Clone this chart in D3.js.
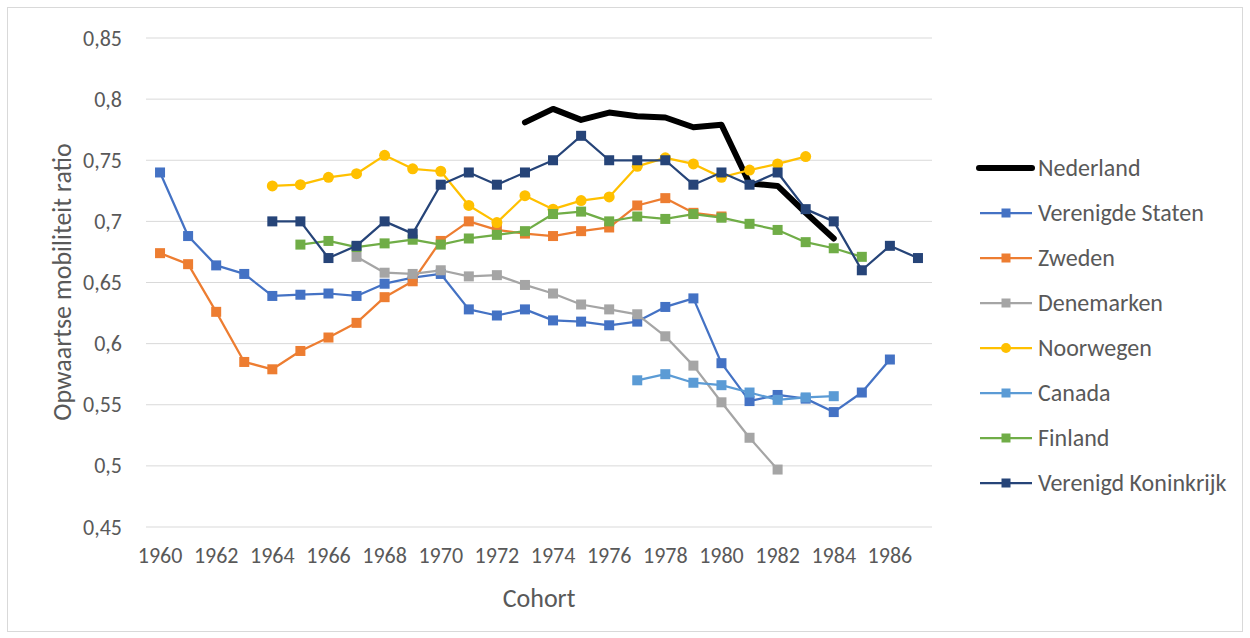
<!DOCTYPE html>
<html><head><meta charset="utf-8">
<script src="https://cdn.jsdelivr.net/npm/d3@7"></script>
<style>
body{margin:0;background:#fff;}
text{font-family:Carlito,Lato,"Liberation Sans",sans-serif;fill:#595959;}
</style></head>
<body><svg id="c" width="1250" height="638"></svg>
<script>
const years = d3.range(1960, 1988);
const yTicks = [0.45,0.5,0.55,0.6,0.65,0.7,0.75,0.8,0.85];
const xTickYears = d3.range(1960, 1988, 2);

const nederlandStart = 1973;
const nederland = [0.781,0.792,0.783,0.789,0.786,0.785,0.777,0.779,0.731,0.729,0.707,0.686];
const vsStart = 1960;
const verenigdeStaten = [0.740,0.688,0.664,0.657,0.639,0.640,0.641,0.639,0.649,0.654,0.657,0.628,0.623,0.628,0.619,0.618,0.615,0.618,0.630,0.637,0.584,0.553,0.558,0.555,0.544,0.560,0.587];
const zwedenStart = 1960;
const zweden = [0.674,0.665,0.626,0.585,0.579,0.594,0.605,0.617,0.638,0.651,0.684,0.700,0.693,0.690,0.688,0.692,0.695,0.713,0.719,0.707,0.704];
const denemarkenStart = 1967;
const denemarken = [0.671,0.658,0.657,0.660,0.655,0.656,0.648,0.641,0.632,0.628,0.624,0.606,0.582,0.552,0.523,0.497];
const noorwegenStart = 1964;
const noorwegen = [0.729,0.730,0.736,0.739,0.754,0.743,0.741,0.713,0.699,0.721,0.710,0.717,0.720,0.745,0.752,0.747,0.736,0.742,0.747,0.753];
const canadaStart = 1977;
const canada = [0.570,0.575,0.568,0.566,0.560,0.554,0.556,0.557];
const finlandStart = 1965;
const finland = [0.681,0.684,0.679,0.682,0.685,0.681,0.686,0.689,0.692,0.706,0.708,0.700,0.704,0.702,0.706,0.703,0.698,0.693,0.683,0.678,0.671];
const vkStart = 1964;
const verenigdKoninkrijk = [0.700,0.700,0.670,0.680,0.700,0.690,0.730,0.740,0.730,0.740,0.750,0.770,0.750,0.750,0.750,0.730,0.740,0.730,0.740,0.710,0.700,0.660,0.680,0.670];

const series = [
  {name:"Nederland", start:nederlandStart, values:nederland, color:"#000000", width:6, marker:"none"},
  {name:"Verenigde Staten", start:vsStart, values:verenigdeStaten, color:"#4472C4", width:2.25, marker:"square"},
  {name:"Zweden", start:zwedenStart, values:zweden, color:"#ED7D31", width:2.25, marker:"square"},
  {name:"Denemarken", start:denemarkenStart, values:denemarken, color:"#A5A5A5", width:2.25, marker:"square"},
  {name:"Noorwegen", start:noorwegenStart, values:noorwegen, color:"#FFC000", width:2.25, marker:"circle"},
  {name:"Canada", start:canadaStart, values:canada, color:"#5B9BD5", width:2.25, marker:"square"},
  {name:"Finland", start:finlandStart, values:finland, color:"#70AD47", width:2.25, marker:"square"},
  {name:"Verenigd Koninkrijk", start:vkStart, values:verenigdKoninkrijk, color:"#264478", width:2.25, marker:"square"}
];

const svg = d3.select("#c");
svg.append("rect").attr("x",7.5).attr("y",7.5).attr("width",1235).attr("height",624)
  .attr("fill","#fff").attr("stroke","#D9D9D9");

const x = d3.scaleBand().domain(years).range([146, 932]);
const y = d3.scaleLinear().domain([0.45, 0.85]).range([527, 38]);
const cx = d => x(d) + x.bandwidth()/2;

svg.append("g").selectAll("line").data(yTicks).join("line")
  .attr("x1",146).attr("x2",932).attr("y1",d=>y(d)).attr("y2",d=>y(d))
  .attr("stroke","#D9D9D9").attr("stroke-width",1);

const fmt = d => d3.format(".2~f")(d).replace(".", ",");
const yAxis = d3.axisLeft(y).tickValues(yTicks).tickFormat(fmt).tickSize(0).tickPadding(24);
const gy = svg.append("g").attr("transform","translate(146,0)").call(yAxis);
gy.select(".domain").remove();
gy.selectAll("text").style("font-size","22px").attr("fill","#595959").attr("font-family",null);

const xAxis = d3.axisBottom(x).tickValues(xTickYears).tickSize(0).tickPadding(20);
const gx = svg.append("g").attr("transform","translate(0,527)").call(xAxis);
gx.select(".domain").remove();
gx.selectAll("text").style("font-size","22px").attr("fill","#595959").attr("font-family",null);

svg.append("text").attr("x",539).attr("y",607).attr("text-anchor","middle").style("font-size","26px").text("Cohort");
svg.append("text").attr("transform","translate(71,282) rotate(-90)").attr("text-anchor","middle").style("font-size","26px").text("Opwaartse mobiliteit ratio");

const line = d3.line().x(d=>cx(d.year)).y(d=>y(d.v));

series.forEach(s => {
  s.pts = s.values.map((v,i)=>({year:s.start+i, v}));
});

series.forEach(s => {
  const g = svg.append("g");
  g.append("path").datum(s.pts).attr("d",line).attr("fill","none")
    .attr("stroke",s.color).attr("stroke-width",s.width)
    .attr("stroke-linejoin","round").attr("stroke-linecap","round");
  if (s.marker==="square") {
    g.selectAll("rect").data(s.pts).join("rect")
      .attr("x",d=>cx(d.year)-5).attr("y",d=>y(d.v)-5)
      .attr("width",10).attr("height",10).attr("fill",s.color);
  } else if (s.marker==="circle") {
    g.selectAll("circle").data(s.pts).join("circle")
      .attr("cx",d=>cx(d.year)).attr("cy",d=>y(d.v)).attr("r",5.5).attr("fill",s.color);
  }
});

const lg = svg.append("g");
series.forEach((s,i) => {
  const ly = 168 + i*45;
  const g = lg.append("g");
  g.append("line").attr("x1",s.marker==="none"?979:980).attr("x2",1032).attr("y1",ly).attr("y2",ly)
    .attr("stroke",s.color).attr("stroke-width",s.width).attr("stroke-linecap", s.marker==="none"?"round":"butt");
  if (s.marker==="square") g.append("rect").attr("x",1006-4.5).attr("y",ly-4.5).attr("width",9).attr("height",9).attr("fill",s.color);
  if (s.marker==="circle") g.append("circle").attr("cx",1006).attr("cy",ly).attr("r",5).attr("fill",s.color);
  g.append("text").attr("x",1038).attr("y",ly).attr("dy","0.35em").style("font-size","24px").text(s.name);
});
</script></body></html>
